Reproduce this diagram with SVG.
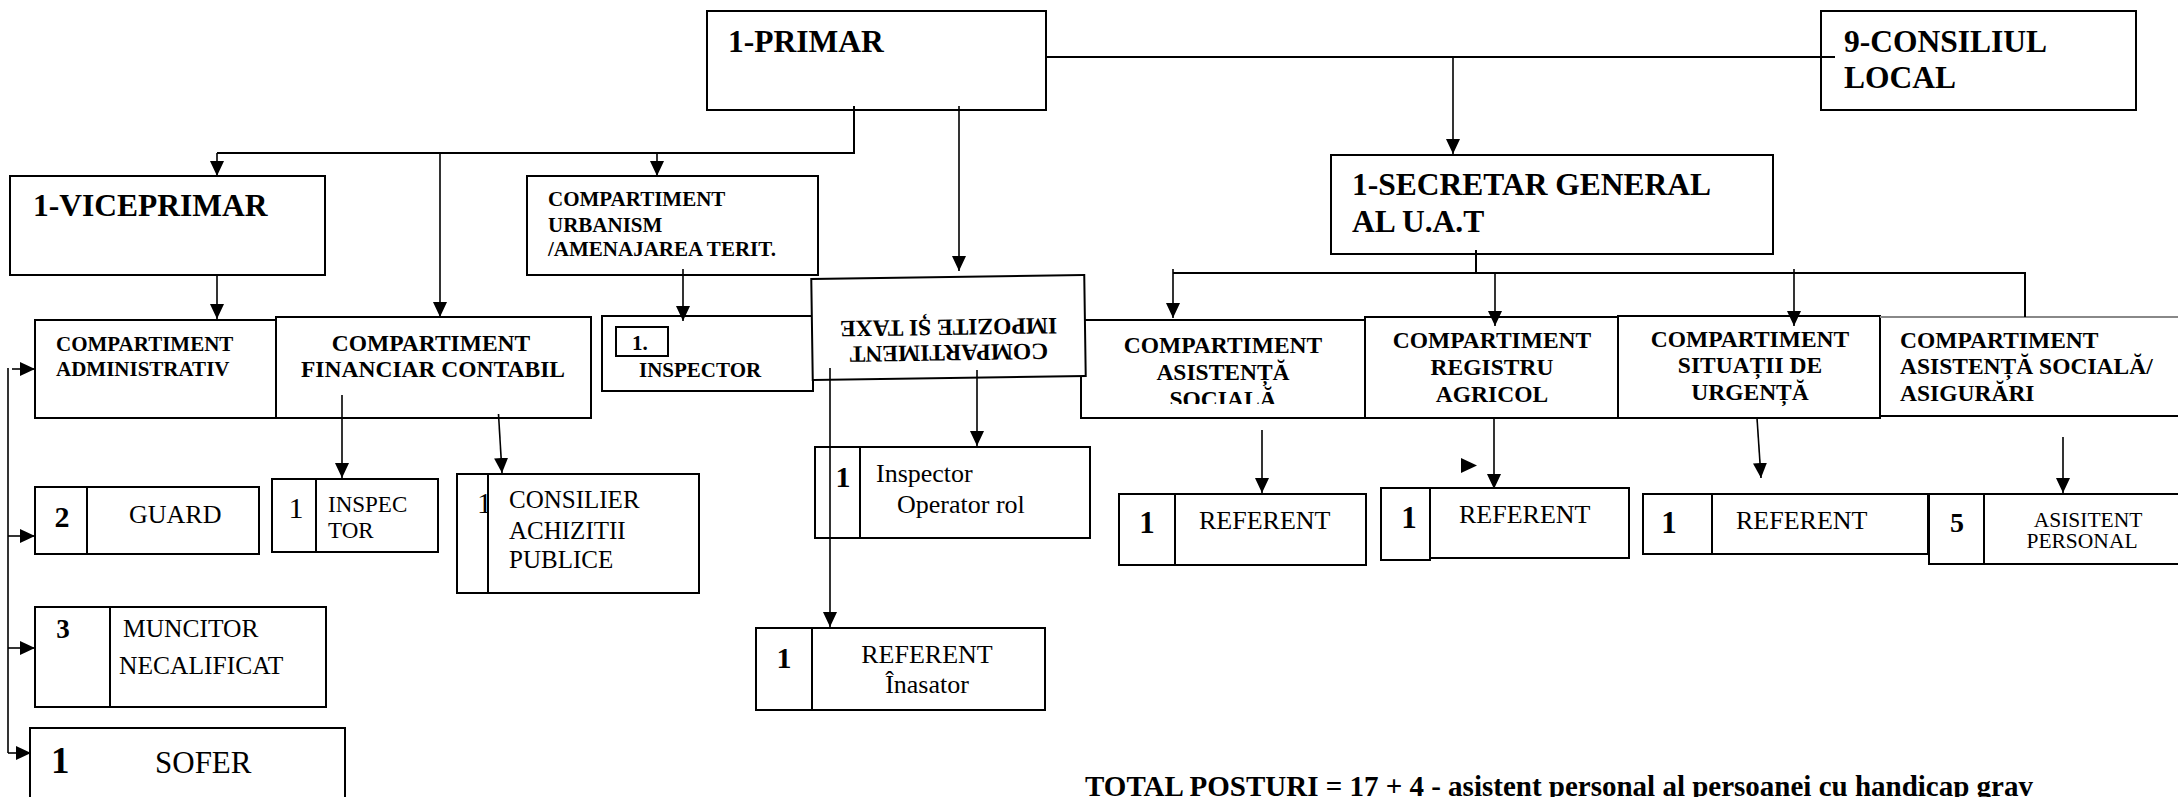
<svg xmlns="http://www.w3.org/2000/svg" width="2178" height="797" viewBox="0 0 2178 797" font-family="Liberation Serif">
<style>
.box{fill:#fff;stroke:#000;stroke-width:2}
.ln{fill:none;stroke:#000;stroke-width:2}
.ar{fill:none;stroke:#000;stroke-width:1.6;marker-end:url(#ah)}
.h1{font-weight:bold;font-size:31.5px}
.h2{font-weight:bold;font-size:23.5px}
.h3{font-weight:bold;font-size:21px}
.nb{font-weight:bold;font-size:30px}
.t{font-size:26px}
.c{text-anchor:middle}
</style>
<defs>
<marker id="ah" markerWidth="15" markerHeight="14" refX="15" refY="7" orient="auto" markerUnits="userSpaceOnUse"><path d="M0,0 L15,7 L0,14 Z" fill="#000"/></marker>
<clipPath id="clipSoc"><rect x="1082" y="321" width="282" height="83"/></clipPath>
</defs>
<rect width="2178" height="797" fill="#fff"/>

<g id="primar"><rect class="box" x="707" y="11" width="339" height="99"/><text class="h1" font-family="Liberation Serif" x="728" y="52">1-PRIMAR</text></g>
<g id="consiliul" font-family="Liberation Serif"><rect class="box" x="1821" y="11" width="315" height="99"/><text class="h1" x="1844" y="52">9-CONSILIUL</text><text class="h1" x="1844" y="88">LOCAL</text></g>
<g id="secretar" font-family="Liberation Serif"><rect class="box" x="1331" y="155" width="442" height="99"/><text class="h1" x="1352" y="195">1-SECRETAR GENERAL</text><text class="h1" x="1352" y="232">AL U.A.T</text></g>
<g id="viceprimar" font-family="Liberation Serif"><rect class="box" x="10" y="176" width="315" height="99"/><text class="h1" x="33" y="216">1-VICEPRIMAR</text></g>
<g id="urbanism" font-family="Liberation Serif"><rect class="box" x="527" y="176" width="291" height="99"/><text class="h3" x="548" y="206">COMPARTIMENT</text><text class="h3" x="548" y="232">URBANISM</text><text class="h3" x="548" y="256">/AMENAJAREA TERIT.</text></g>

<g id="administrativ" font-family="Liberation Serif"><rect class="box" x="35" y="320" width="242" height="98"/><text class="h3" x="56" y="351">COMPARTIMENT</text><text class="h3" x="56" y="376">ADMINISTRATIV</text></g>
<g id="financiar" font-family="Liberation Serif"><rect class="box" x="276" y="317" width="315" height="101"/><text class="h2 c" x="431" y="351">COMPARTIMENT</text><text class="h2 c" x="433" y="377">FINANCIAR CONTABIL</text></g>
<g id="inspector-urb" font-family="Liberation Serif"><rect class="box" x="602" y="316" width="211" height="75"/><rect class="box" x="616" y="327" width="52" height="29"/><text class="h3" x="632" y="350">1.</text><text class="h3" x="639" y="377">INSPECTOR</text></g>

<g id="asistenta" font-family="Liberation Serif"><rect class="box" x="1081" y="320" width="284" height="98"/><text class="h2 c" x="1223" y="353">COMPARTIMENT</text><text class="h2 c" x="1223" y="380">ASISTENȚĂ</text><text class="h2 c" x="1223" y="407" clip-path="url(#clipSoc)">SOCIALĂ</text></g>
<g id="impozite" font-family="Liberation Serif" transform="translate(948.5,327.5) rotate(179.16)"><rect class="box" x="-136.5" y="-50.5" width="273" height="101"/><text class="h2 c" x="0" y="-17.5">COMPARTIMENT</text><text class="h2 c" x="0" y="8">IMPOZITE ȘI TAXE</text></g>
<g id="registru" font-family="Liberation Serif"><rect class="box" x="1365" y="317" width="253" height="101"/><text class="h2 c" x="1492" y="348">COMPARTIMENT</text><text class="h2 c" x="1492" y="375">REGISTRU</text><text class="h2 c" x="1492" y="402">AGRICOL</text></g>
<g id="situatii" font-family="Liberation Serif"><rect class="box" x="1618" y="316" width="262" height="102"/><text class="h2 c" x="1750" y="347">COMPARTIMENT</text><text class="h2 c" x="1750" y="373">SITUAȚII DE</text><text class="h2 c" x="1750" y="400">URGENȚĂ</text></g>
<g id="asigurari" font-family="Liberation Serif"><rect x="1880" y="317" width="310" height="99" fill="#fff" stroke="#000" stroke-width="2"/><line x1="1880" y1="317" x2="2178" y2="317" stroke="#888" stroke-width="2"/><text class="h2" x="1900" y="348">COMPARTIMENT</text><text class="h2" x="1900" y="374">ASISTENȚĂ SOCIALĂ/</text><text class="h2" x="1900" y="401">ASIGURĂRI</text></g>

<g id="guard" font-family="Liberation Serif"><rect class="box" x="35" y="487" width="224" height="67"/><line class="ln" x1="87" y1="487" x2="87" y2="554"/><text class="nb c" x="62" y="527" font-size="28">2</text><text class="t" x="129" y="523">GUARD</text></g>
<g id="inspec-tor" font-family="Liberation Serif"><rect class="box" x="272" y="479" width="166" height="73"/><line class="ln" x1="316" y1="479" x2="316" y2="552"/><text class="c" x="296" y="518" font-size="30">1</text><text x="328" y="512" font-size="23">INSPEC</text><text x="328" y="538" font-size="23">TOR</text></g>
<g id="consilier" font-family="Liberation Serif"><rect class="box" x="457" y="474" width="242" height="119"/><text x="477" y="513" font-size="30">1</text><rect class="box" x="488" y="474" width="211" height="119"/><text x="509" y="508" font-size="25">CONSILIER</text><text x="509" y="539" font-size="25">ACHIZITII</text><text x="509" y="568" font-size="25">PUBLICE</text></g>
<g id="muncitor" font-family="Liberation Serif"><rect class="box" x="35" y="607" width="291" height="100"/><line class="ln" x1="110" y1="607" x2="110" y2="707"/><text class="c" x="63" y="638" font-weight="bold" font-size="27">3</text><text x="123" y="637" font-size="25.5">MUNCITOR</text><text x="119" y="674" font-size="25.5">NECALIFICAT</text></g>
<g id="sofer" font-family="Liberation Serif"><rect class="box" x="30" y="728" width="315" height="100"/><text x="51" y="773" font-weight="bold" font-size="37">1</text><text x="155" y="773" font-size="31">SOFER</text></g>

<g id="inspector-rol" font-family="Liberation Serif"><rect class="box" x="815" y="447" width="275" height="91"/><line class="ln" x1="860" y1="447" x2="860" y2="538"/><text class="nb c" x="843" y="487">1</text><text class="t" x="876" y="482">Inspector</text><text class="t" x="897" y="513">Operator rol</text></g>
<g id="referent-inasator" font-family="Liberation Serif"><rect class="box" x="756" y="628" width="289" height="82"/><line class="ln" x1="812" y1="628" x2="812" y2="710"/><text class="nb c" x="784" y="668">1</text><text class="t c" x="927" y="663">REFERENT</text><text class="t c" x="927" y="693">Înasator</text></g>

<g id="referent-asistenta" font-family="Liberation Serif"><rect class="box" x="1119" y="494" width="247" height="71"/><line class="ln" x1="1175" y1="494" x2="1175" y2="565"/><text class="c" x="1147" y="533" font-weight="bold" font-size="31">1</text><text class="t" x="1199" y="529">REFERENT</text></g>
<g id="referent-registru" font-family="Liberation Serif"><rect class="box" x="1381" y="488" width="49" height="72"/><rect class="box" x="1430" y="488" width="199" height="70"/><text class="c" x="1409" y="528" font-weight="bold" font-size="31">1</text><text class="t" x="1459" y="523">REFERENT</text></g>
<g id="referent-situatii" font-family="Liberation Serif"><rect class="box" x="1643" y="494" width="285" height="60"/><line class="ln" x1="1712" y1="494" x2="1712" y2="554"/><text class="c" x="1669" y="533" font-weight="bold" font-size="31">1</text><text class="t" x="1736" y="529">REFERENT</text></g>
<g id="asistent-personal" font-family="Liberation Serif"><rect class="box" x="1929" y="494" width="260" height="70"/><line class="ln" x1="1984" y1="494" x2="1984" y2="564"/><text class="c" x="1957" y="532" font-weight="bold" font-size="28">5</text><text class="c" x="2088" y="527" font-size="21.5">ASISITENT</text><text class="c" x="2082" y="548" font-size="21.5">PERSONAL</text></g>

<g id="total" font-family="Liberation Serif"><text x="1085" y="796" font-weight="bold" font-size="29">TOTAL POSTURI = 17 + 4 - asistent personal al persoanei cu handicap grav</text></g>

<g id="connectors">
<path class="ln" d="M1046,57 H1835"/>
<path class="ar" d="M1453,57 V154"/>
<path class="ln" d="M854,106 V153 H217"/>
<path class="ar" d="M217,153 V176"/>
<path class="ar" d="M440,153 V317"/>
<path class="ar" d="M657,153 V176"/>
<path class="ar" d="M959,106 V271"/>
<path class="ar" d="M217,275 V319"/>
<path class="ar" d="M683,269 V321"/>
<path class="ar" d="M342,395 V478"/>
<path class="ar" d="M498.5,414 L502,473"/>
<path class="ar" d="M977,370 V446"/>
<path class="ar" d="M830,368 V627"/>
<path class="ln" d="M8,368 V753" style="stroke-width:1.6"/>
<path class="ar" d="M12,369 H35"/>
<path class="ar" d="M8,536 H35"/>
<path class="ar" d="M8,648 H35"/>
<path class="ar" d="M8,753 H31"/>
<path class="ln" d="M1476,250 V273"/>
<path class="ln" d="M1173,273 H2025 V317"/>
<path class="ar" d="M1173,269 V318"/>
<path class="ar" d="M1495,273 V326"/>
<path class="ar" d="M1794,269 V326"/>
<path class="ar" d="M1262,430 V493"/>
<path class="ar" d="M1494,418 V489"/>
<path class="ar" d="M1757,418 L1761,478"/>
<path class="ar" d="M2063,437 V493"/>
<polygon points="1461,458 1477,465.5 1461,473" fill="#000"/>
</g>
</svg>
